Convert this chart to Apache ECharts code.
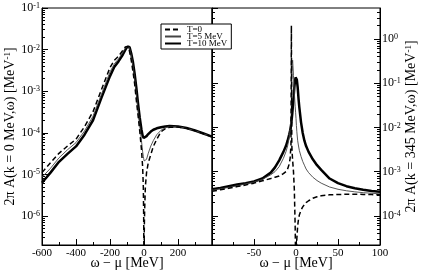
<!DOCTYPE html>
<html><head><meta charset="utf-8">
<script src="https://cdn.jsdelivr.net/npm/echarts@6/dist/echarts.min.js"></script>
<style>html,body{margin:0;padding:0;background:#fff}#c{width:423px;height:273px}</style>
</head><body><div id="c"></div><script>
// ---- data: left panel, k = 0 MeV ----
const leftX = [-600,-550,-500,-450,-400,-350,-300,-250,-200,-175,-150,-125,-110,-100,-92,-85,-75,-65,-55,-45,-35,-25,-15,-8,-4,-2,-1,0,1,2,4,8,15,25,40,55,75,100,125,150,200,250,300,350,400];
const leftT0 = [1.1e-5,1.9e-5,3.2e-5,4.8e-5,7e-5,1.4e-4,3.2e-4,1.1e-3,3.7e-3,5.5e-3,6.9e-3,9.5e-3,1.15e-2,1.25e-2,1.2e-2,9e-3,5.5e-3,3e-3,1.5e-3,6e-4,2.6e-4,1.1e-4,4e-5,1.5e-5,5e-6,1e-6,2e-7,1e-9,2e-7,6e-7,1.5e-6,5e-6,1.1e-5,1.9e-5,3e-5,4.7e-5,7e-5,1.05e-4,1.25e-4,1.35e-4,1.38e-4,1.28e-4,1.12e-4,9.5e-5,8e-5];
const leftT5 = [8.5e-6,1.4e-5,2.5e-5,3.9e-5,5.8e-5,1.1e-4,2.5e-4,8.5e-4,2.9e-3,4.5e-3,6e-3,8.5e-3,1.08e-2,1.2e-2,1.22e-2,1.05e-2,7e-3,4e-3,2e-3,8.5e-4,3.5e-4,1.5e-4,6.5e-5,3.5e-5,2.7e-5,2.4e-5,2.3e-5,2.2e-5,2.1e-5,2.05e-5,2e-5,2e-5,2.3e-5,3.2e-5,4.8e-5,6.5e-5,9e-5,1.15e-4,1.32e-4,1.4e-4,1.4e-4,1.28e-4,1.12e-4,9.5e-5,8e-5];
const leftT10 = [6.3e-6,1.1e-5,2e-5,3.1e-5,4.7e-5,9e-5,2e-4,7e-4,2.3e-3,3.8e-3,5.2e-3,7.5e-3,9.8e-3,1.15e-2,1.23e-2,1.15e-2,8e-3,5e-3,2.6e-3,1.2e-3,5e-4,2.3e-4,1.2e-4,8.5e-5,7.8e-5,7.5e-5,7.4e-5,7.3e-5,7.3e-5,7.3e-5,7.4e-5,7.7e-5,8.3e-5,9.3e-5,1.07e-4,1.18e-4,1.28e-4,1.36e-4,1.42e-4,1.45e-4,1.42e-4,1.3e-4,1.13e-4,9.6e-5,8.1e-5];
// ---- data: right panel, k = 345 MeV ----
const rightX = [-100,-90,-80,-70,-60,-50,-40,-30,-25,-20,-15,-12,-10,-8,-7,-6,-5.5,-5,-4.5,-4,-3,-2,-1,-0.5,0,0.5,1,2,3,4,6,8,10,12,15,20,25,30,40,50,60,70,80,90,100];
const rightT0 = [3.6e-4,3.9e-4,4.2e-4,4.6e-4,5e-4,5.5e-4,6.2e-4,7e-4,7.5e-4,8e-4,9e-4,1e-3,1.15e-3,1.5e-3,2e-3,4e-3,2.0,4e-3,2.5e-3,1.8e-3,1e-3,4e-4,6e-5,1.2e-5,1e-9,1.5e-5,3e-5,6e-5,8.5e-5,1.05e-4,1.35e-4,1.6e-4,1.8e-4,2e-4,2.2e-4,2.5e-4,2.7e-4,2.85e-4,3e-4,3.05e-4,3.08e-4,3.08e-4,3.06e-4,3.03e-4,3e-4];
const rightT5 = [3.8e-4,4.1e-4,4.4e-4,4.8e-4,5.3e-4,5.8e-4,6.7e-4,8.5e-4,1e-3,1.3e-3,2e-3,2.8e-3,3.8e-3,6e-3,8.5e-3,1.4e-2,2e-2,0.1,0.25,0.33,0.15,6e-2,3e-2,2.2e-2,1.6e-2,1.1e-2,8e-3,5e-3,3.8e-3,3e-3,2.2e-3,1.7e-3,1.4e-3,1.15e-3,9.5e-4,7.5e-4,6.3e-4,5.5e-4,4.5e-4,4e-4,3.7e-4,3.5e-4,3.35e-4,3.25e-4,3.15e-4];
const rightT10 = [4e-4,4.3e-4,4.7e-4,5.1e-4,5.5e-4,6e-4,7e-4,9.5e-4,1.25e-3,1.8e-3,2.8e-3,3.8e-3,5e-3,7e-3,8.5e-3,1.1e-2,1.3e-2,1.6e-2,2e-2,2.6e-2,4.5e-2,8e-2,0.12,0.135,0.14,0.135,0.12,8e-2,4.5e-2,2.8e-2,1.3e-2,7.5e-3,5e-3,3.8e-3,2.8e-3,1.9e-3,1.4e-3,1.1e-3,7e-4,5.5e-4,4.7e-4,4.2e-4,3.9e-4,3.65e-4,3.5e-4];
const seriesNames = ['T=0','T=5 MeV','T=10 MeV'];
const leftXTicks = [-600,-400,-200,0,200];
const rightXTicks = [-50,0,50,100];

const FONT = 'Liberation Serif';
const zip = (xs, ys) => xs.map((x, i) => [x, ys[i]]);
// minor tick positions (in log10 space) for the tick-only helper axes
function minorsLog(lo, hi) { const r = []; for (let e = -9; e <= 2; e++) for (let m = 2; m <= 9; m++) { const v = m * Math.pow(10, e); if (v > lo && v < hi) r.push(Math.log10(v)); } return r; }
const rich = {
  b: { fontFamily: FONT, fontSize: 12, color: '#000', lineHeight: 12, verticalAlign: 'bottom' },
  s: { fontFamily: FONT, fontSize: 8, color: '#000', lineHeight: 8, verticalAlign: 'top', padding: [0, 0, 6, 0] }
};
const supLabel = v => {
  const l = Math.log10(v), e = Math.round(l);
  return Math.abs(l - e) > 0.01 ? '' : '{b|10}{s|' + e + '}';
};
const nameRich = {
  s: { fontFamily: FONT, fontSize: 9, color: '#000', verticalAlign: 'top', padding: [0, 0, 6, 0] }
};

function yLog(grid, pos, min, max, showLabel, name) {
  const ax = {
    type: 'log', logBase: 10, gridIndex: grid, position: pos, min: min, max: max,
    axisLine: { show: true, onZero: false, lineStyle: { color: '#000', width: 1 } },
    axisTick: { show: true, inside: true, length: 6, lineStyle: { color: '#000', width: 1 } },
    axisLabel: { show: showLabel, margin: 2, formatter: supLabel, rich: rich, showMinLabel: false, showMaxLabel: showLabel && max <= 0.1 },
    splitLine: { show: false }
  };
  if (name) {
    ax.name = name; ax.nameLocation = 'middle'; ax.nameGap = 24; ax.nameRotate = 90; ax.nameMoveOverlap = false;
    ax.nameTextStyle = { fontFamily: FONT, fontSize: 14, color: '#000', rich: nameRich };
  }
  return ax;
}
// helper axis carrying only the logarithmic minor ticks
function yMinor(grid, pos, min, max) {
  return {
    type: 'value', gridIndex: grid, position: pos, min: Math.log10(min), max: Math.log10(max),
    axisLine: { show: false, onZero: false },
    axisTick: { show: true, inside: true, length: 3, lineStyle: { color: '#000', width: 1 }, customValues: minorsLog(min, max) },
    axisLabel: { show: false }, splitLine: { show: false }
  };
}
function xAxis(grid, min, max, interval, shown) {
  return {
    type: 'value', gridIndex: grid, min: min, max: max, interval: interval,
    axisLine: { onZero: false, lineStyle: { color: '#000', width: 1 } },
    axisTick: { inside: true, length: 6, lineStyle: { color: '#000' } },
    minorTick: { show: true, splitNumber: 2, length: 3, lineStyle: { color: '#000' } },
    axisLabel: { margin: 3, fontFamily: FONT, fontSize: 11, color: '#000',
      formatter: v => (shown.indexOf(v) >= 0 ? String(v) : '') },
    splitLine: { show: false },
    name: 'ω − μ [MeV]', nameLocation: 'middle', nameGap: 11, nameMoveOverlap: false,
    nameTextStyle: { fontFamily: FONT, fontSize: 14, color: '#000' }
  };
}
const styles = [
  { color: '#000', width: 1.5, type: [5, 3] },
  { color: '#444', width: 0.9, type: 'solid' },
  { color: '#000', width: 2.5, type: 'solid' }
];
function mk(i, data, xi, yi) {
  return { name: seriesNames[i], type: 'line', xAxisIndex: xi, yAxisIndex: yi, data: data,
    showSymbol: false, symbol: 'none', clip: true, animation: false, z: 3 - i,
    lineStyle: styles[i], itemStyle: { color: styles[i].color } };
}
const LMIN = 2e-7, LMAX = 0.1, RMIN = 2.2e-5, RMAX = 5;
const option = {
  backgroundColor: '#fff', animation: false,
  grid: [
    { left: 42, top: 8, width: 170, height: 237, show: true, borderColor: '#000', borderWidth: 1, containLabel: false, outerBoundsMode: 'none' },
    { left: 212, top: 8, width: 168, height: 237, show: true, borderColor: '#000', borderWidth: 1, containLabel: false, outerBoundsMode: 'none' }
  ],
  legend: {
    left: 161, top: 24, orient: 'vertical', selectedMode: false,
    data: seriesNames, itemWidth: 16, itemHeight: 6, itemGap: -2, padding: [1, 4, 1, 3],
    borderColor: '#000', borderWidth: 1, backgroundColor: '#fff',
    itemStyle: { opacity: 0 },
    textStyle: { fontFamily: FONT, fontSize: 9, color: '#000', lineHeight: 7, padding: [0, 0, 0, 1] }
  },
  xAxis: [ xAxis(0, -600, 400, 200, leftXTicks), xAxis(1, -100, 100, 50, rightXTicks) ],
  yAxis: [
    yLog(0, 'left', LMIN, LMAX, true, '2π A(k = 0 MeV,ω) [MeV{s|-1}]'),
    yMinor(0, 'left', LMIN, LMAX),
    yLog(1, 'left', RMIN, RMAX, false),
    yMinor(1, 'left', RMIN, RMAX),
    yLog(1, 'right', RMIN, RMAX, true, '2π A(k = 345 MeV,ω) [MeV{s|-1}]'),
    yMinor(1, 'right', RMIN, RMAX)
  ],
  series: [
    mk(0, zip(leftX, leftT0), 0, 0), mk(1, zip(leftX, leftT5), 0, 0), mk(2, zip(leftX, leftT10), 0, 0),
    mk(0, zip(rightX, rightT0), 1, 2), mk(1, zip(rightX, rightT5), 1, 2), mk(2, zip(rightX, rightT10), 1, 2)
  ]
};
const chart = echarts.init(document.getElementById('c'), null, { renderer: 'canvas' });
chart.setOption(option);
</script></body></html>
